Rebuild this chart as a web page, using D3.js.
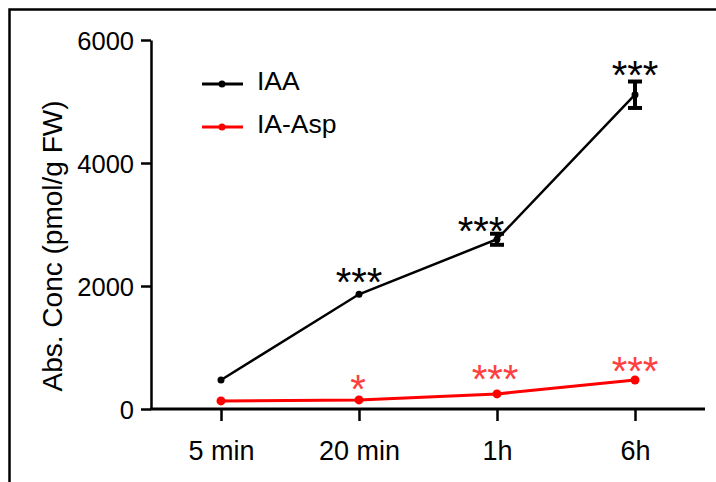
<!DOCTYPE html>
<html>
<head>
<meta charset="utf-8">
<script src="https://cdn.jsdelivr.net/npm/d3@7"></script>
<style>
  body { margin: 0; background: #fff; }
  svg text { font-family: Arial, "Liberation Sans", sans-serif; fill: #000; }
</style>
</head>
<body>
<div class="chart"></div>
<script>
// data
const timepoints = ["5 min", "20 min", "1h", "6h"];
const iaa = [472, 1865, 2760, 5110];
const iaaErr = [0, 0, 90, 215];
const iaAsp = [132, 148, 245, 472];
const iaaStars = ["", "***", "***", "***"];
const aspStars = ["", "*", "***", "***"];
const yTicks = [0, 2000, 4000, 6000];

const W = 716, H = 482;
const svg = d3.select('div.chart').append('svg')
    .attr('width', W)
    .attr('height', H);

// outer frame
svg.append('rect')
    .attr('x', 9.5).attr('y', 9.5)
    .attr('width', 740).attr('height', 520)
    .attr('fill', 'none').attr('stroke', '#000').attr('stroke-width', 2.5);

const x = d3.scalePoint().domain(timepoints).range([221, 635]);
const y = d3.scaleLinear().domain([0, 6000]).range([409, 40]);
const x0 = 151, xEnd = 705;

// y axis
const yAxis = svg.append('g')
    .attr('transform', `translate(${x0},0)`)
    .call(d3.axisLeft(y).tickValues(yTicks).tickSize(10).tickSizeOuter(0).tickFormat(d3.format('d')));
yAxis.select('.domain').attr('stroke-width', 2.5);
yAxis.selectAll('.tick line').attr('stroke-width', 2.5);
yAxis.selectAll('.tick text')
    .attr('x', -17).attr('dy', '0.36em')
    .style('font-size', '25.5px');

// x axis
const xAxis = svg.append('g')
    .attr('transform', `translate(0,${y(0)})`)
    .call(d3.axisBottom(x).tickSize(12).tickSizeOuter(0));
xAxis.select('.domain').remove();
xAxis.selectAll('.tick line').attr('stroke-width', 2.5);
xAxis.selectAll('.tick text')
    .attr('y', 51).attr('dy', 0)
    .style('font-size', '27px');
svg.append('line')
    .attr('x1', x0 - 1).attr('x2', xEnd)
    .attr('y1', y(0)).attr('y2', y(0))
    .attr('stroke', '#000').attr('stroke-width', 3);

// y title
svg.append('text')
    .attr('transform', `translate(62,${246}) rotate(-90)`)
    .attr('text-anchor', 'middle')
    .style('font-size', '28px')
    .text('Abs. Conc (pmol/g FW)');

const line = d3.line()
    .x((d, i) => x(timepoints[i]))
    .y(d => y(d));

// IA-Asp
svg.append('path')
    .datum(iaAsp)
    .attr('d', line)
    .attr('fill', 'none').attr('stroke', '#ff0000').attr('stroke-width', 3);
svg.selectAll('circle.asp')
    .data(iaAsp)
    .enter().append('circle')
    .attr('class', 'asp')
    .attr('cx', (d, i) => x(timepoints[i]))
    .attr('cy', d => y(d))
    .attr('r', 4.5)
    .attr('fill', '#ff0000');

// IAA
svg.append('path')
    .datum(iaa)
    .attr('d', line)
    .attr('fill', 'none').attr('stroke', '#000').attr('stroke-width', 2.5);
svg.selectAll('circle.iaa')
    .data(iaa)
    .enter().append('circle')
    .attr('class', 'iaa')
    .attr('cx', (d, i) => x(timepoints[i]))
    .attr('cy', d => y(d))
    .attr('r', 3.5)
    .attr('fill', '#000');

// error bars
iaa.forEach((v, i) => {
    if (!iaaErr[i]) return;
    const cx = x(timepoints[i]);
    const g = svg.append('g');
    g.append('line')
        .attr('x1', cx).attr('x2', cx)
        .attr('y1', y(v + iaaErr[i])).attr('y2', y(v - iaaErr[i]))
        .attr('stroke', '#000').attr('stroke-width', 4);
    [v + iaaErr[i], v - iaaErr[i]].forEach(e => {
        g.append('line')
            .attr('x1', cx - 7).attr('x2', cx + 7)
            .attr('y1', y(e)).attr('y2', y(e))
            .attr('stroke', '#000').attr('stroke-width', 4);
    });
});

// significance stars (offset from the mean point, px)
const iaaStarDx = [0, 0, -16, 0];
const iaaStarDy = [0, 2, 6, -6];
svg.selectAll('text.iaastar')
    .data(iaa)
    .enter().append('text')
    .attr('class', 'iaastar')
    .attr('x', (d, i) => x(timepoints[i]) + iaaStarDx[i])
    .attr('y', (d, i) => y(d) + iaaStarDy[i])
    .attr('text-anchor', 'middle')
    .style('font-size', '40px')
    .text((d, i) => iaaStars[i]);

const aspStarDx = [0, -1, -2, 0];
const aspStarDy = [0, 3, -1, 5];
svg.selectAll('text.aspstar')
    .data(iaAsp)
    .enter().append('text')
    .attr('class', 'aspstar')
    .attr('x', (d, i) => x(timepoints[i]) + aspStarDx[i])
    .attr('y', (d, i) => y(d) + aspStarDy[i])
    .attr('text-anchor', 'middle')
    .style('font-size', '40px')
    .style('fill', '#ff4040')
    .text((d, i) => aspStars[i]);

// legend
const legend = [
    { name: 'IAA', color: '#000', y: 84 },
    { name: 'IA-Asp', color: '#ff0000', y: 127 }
];
const lg = svg.selectAll('g.legend')
    .data(legend)
    .enter().append('g')
    .attr('class', 'legend')
    .attr('transform', d => `translate(0,${d.y})`);
lg.append('line')
    .attr('x1', 202).attr('x2', 243)
    .attr('stroke', d => d.color).attr('stroke-width', 3);
lg.append('circle')
    .attr('cx', 222).attr('r', 3.5)
    .attr('fill', d => d.color);
lg.append('text')
    .attr('x', 257).attr('y', 6)
    .style('font-size', '26.5px')
    .text(d => d.name);
</script>
</body>
</html>
